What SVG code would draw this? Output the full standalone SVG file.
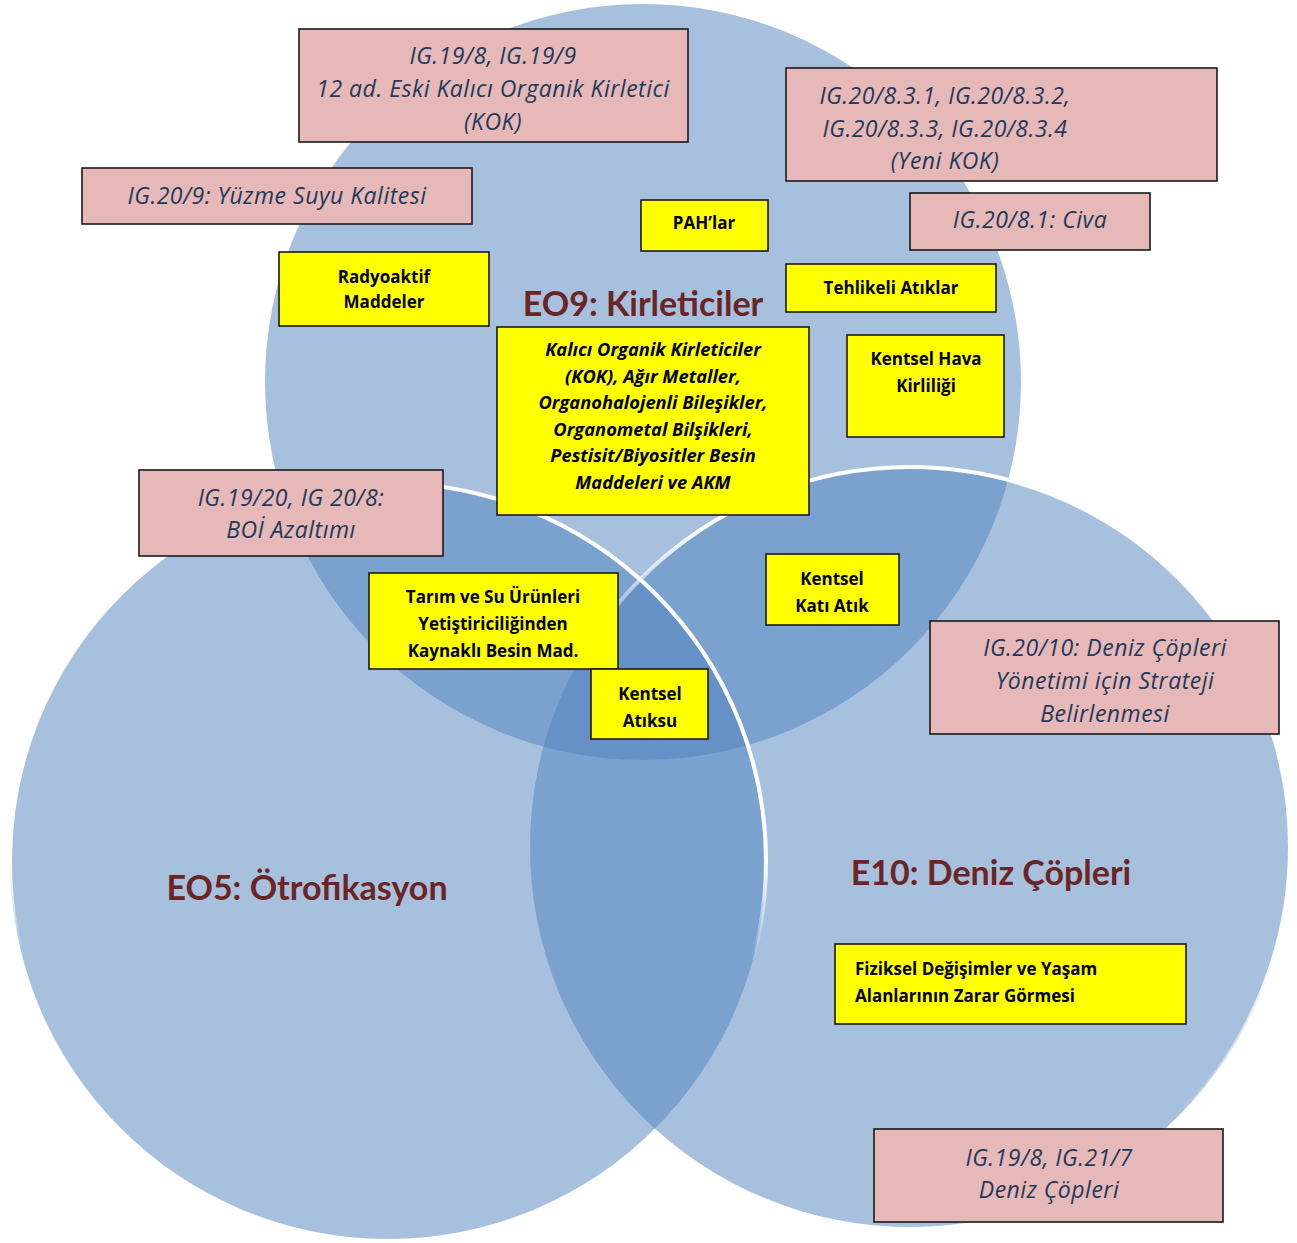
<svg xmlns="http://www.w3.org/2000/svg" width="1297" height="1243" viewBox="0 0 1297 1243">
<style>
.circ{fill:#4F81BD;fill-opacity:0.5}
.pink{fill:#E6B8B7;stroke:#1a1a1a;stroke-width:1.6}
.yel{fill:#FFFF00;stroke:#1a1a1a;stroke-width:1.6}
.pt{font-family:"Open Sans","Liberation Sans",sans-serif;font-style:italic;font-weight:500;font-size:23px;letter-spacing:0.5px;fill:#1F3A5C;text-anchor:middle}
.yt{font-family:"Open Sans","Liberation Sans",sans-serif;font-weight:bold;font-size:17px;fill:#000;text-anchor:middle}
.yl{font-family:"Open Sans","Liberation Sans",sans-serif;font-weight:bold;font-size:17px;fill:#000;text-anchor:start}
.yi{font-family:"Open Sans","Liberation Sans",sans-serif;font-weight:bold;font-style:italic;font-size:18.3px;fill:#000;text-anchor:middle}
.ti{font-family:Lato,"Liberation Sans",sans-serif;font-weight:bold;font-size:34px;fill:#6B2525;text-anchor:middle}
</style>
<defs>
<linearGradient id="g5" gradientUnits="userSpaceOnUse" x1="0" y1="480" x2="0" y2="960">
<stop offset="0" stop-color="#fff" stop-opacity="1"/>
<stop offset="0.8" stop-color="#fff" stop-opacity="1"/>
<stop offset="1" stop-color="#fff" stop-opacity="0"/>
</linearGradient>
<linearGradient id="g10" gradientUnits="userSpaceOnUse" x1="700" y1="520" x2="580" y2="680">
<stop offset="0" stop-color="#fff" stop-opacity="1"/>
<stop offset="1" stop-color="#fff" stop-opacity="0"/>
</linearGradient>
</defs>
<rect width="1297" height="1243" fill="#fff"/>
<g id="circles">
<g id="eo9"><circle class="circ" cx="643" cy="382" r="378"/></g>
<g id="eo5"><circle class="circ" cx="388" cy="861" r="378"/></g>
<g id="e10"><circle class="circ" cx="910" cy="847" r="380"/></g>
<circle cx="388" cy="861" r="378" fill="none" stroke="url(#g5)" stroke-width="4"/>
<circle cx="910" cy="847" r="380" fill="none" stroke="url(#g10)" stroke-width="4"/>
</g>
<g id="titles">
<text class="ti" x="643" y="316">EO9: Kirleticiler</text>
<text class="ti" x="307" y="900">EO5: Ötrofikasyon</text>
<text class="ti" x="991" y="885">E10: Deniz Çöpleri</text>
</g>
<g id="connectors"/>
<g id="ig1998"><rect class="pink" x="299" y="29" width="389" height="113"/>
<text class="pt" x="493" y="64">IG.19/8, IG.19/9</text>
<text class="pt" x="493" y="97">12 ad. Eski Kalıcı Organik Kirletici</text>
<text class="pt" x="493" y="130">(KOK)</text></g>
<g id="ig2083"><rect class="pink" x="786" y="68" width="431" height="113"/>
<text class="pt" x="945" y="104">IG.20/8.3.1, IG.20/8.3.2,</text>
<text class="pt" x="945" y="137">IG.20/8.3.3, IG.20/8.3.4</text>
<text class="pt" x="945" y="169">(Yeni KOK)</text></g>
<g id="ig209"><rect class="pink" x="82" y="168" width="390" height="56"/>
<text class="pt" x="277" y="204">IG.20/9: Yüzme Suyu Kalitesi</text></g>
<g id="ig2081"><rect class="pink" x="910" y="193" width="240" height="57"/>
<text class="pt" x="1030" y="228">IG.20/8.1: Civa</text></g>
<g id="ig1920"><rect class="pink" x="139" y="470" width="304" height="86"/>
<text class="pt" x="291" y="506">IG.19/20, IG 20/8:</text>
<text class="pt" x="291" y="538">BOİ Azaltımı</text></g>
<g id="ig2010"><rect class="pink" x="930" y="621" width="349" height="113"/>
<text class="pt" x="1105" y="656">IG.20/10: Deniz Çöpleri</text>
<text class="pt" x="1105" y="689">Yönetimi için Strateji</text>
<text class="pt" x="1105" y="722">Belirlenmesi</text></g>
<g id="ig2117"><rect class="pink" x="874" y="1129" width="349" height="93"/>
<text class="pt" x="1049" y="1166">IG.19/8, IG.21/7</text>
<text class="pt" x="1049" y="1198">Deniz Çöpleri</text></g>
<g id="pah"><rect class="yel" x="641" y="200" width="127" height="51"/>
<text class="yt" x="704" y="229">PAH’lar</text></g>
<g id="radyo"><rect class="yel" x="279" y="252" width="210" height="74"/>
<text class="yt" x="384" y="283">Radyoaktif</text>
<text class="yt" x="384" y="308">Maddeler</text></g>
<g id="tehlikeli"><rect class="yel" x="786" y="264" width="210" height="48"/>
<text class="yt" x="891" y="294">Tehlikeli Atıklar</text></g>
<g id="hava"><rect class="yel" x="847" y="335" width="157" height="102"/>
<text class="yt" x="926" y="365">Kentsel Hava</text>
<text class="yt" x="926" y="392">Kirliliği</text></g>
<g id="kok"><rect class="yel" x="497" y="327" width="312" height="188"/>
<text class="yi" x="653" y="356">Kalıcı Organik Kirleticiler</text>
<text class="yi" x="653" y="383">(KOK), Ağır Metaller,</text>
<text class="yi" x="653" y="409">Organohalojenli Bileşikler,</text>
<text class="yi" x="653" y="436">Organometal Bilşikleri,</text>
<text class="yi" x="653" y="462">Pestisit/Biyositler Besin</text>
<text class="yi" x="653" y="489">Maddeleri ve AKM</text></g>
<g id="tarim"><rect class="yel" x="369" y="573" width="249" height="96"/>
<text class="yt" x="493" y="603">Tarım ve Su Ürünleri</text>
<text class="yt" x="493" y="630">Yetiştiriciliğinden</text>
<text class="yt" x="493" y="657">Kaynaklı Besin Mad.</text></g>
<g id="atiksu"><rect class="yel" x="591" y="669" width="117" height="70"/>
<text class="yt" x="650" y="700">Kentsel</text>
<text class="yt" x="650" y="727">Atıksu</text></g>
<g id="katiatik"><rect class="yel" x="766" y="554" width="133" height="71"/>
<text class="yt" x="832" y="585">Kentsel</text>
<text class="yt" x="832" y="612">Katı Atık</text></g>
<g id="fiziksel"><rect class="yel" x="835" y="944" width="351" height="80"/>
<text class="yl" x="855" y="975">Fiziksel Değişimler ve Yaşam</text>
<text class="yl" x="855" y="1002">Alanlarının Zarar Görmesi</text></g>
</svg>
